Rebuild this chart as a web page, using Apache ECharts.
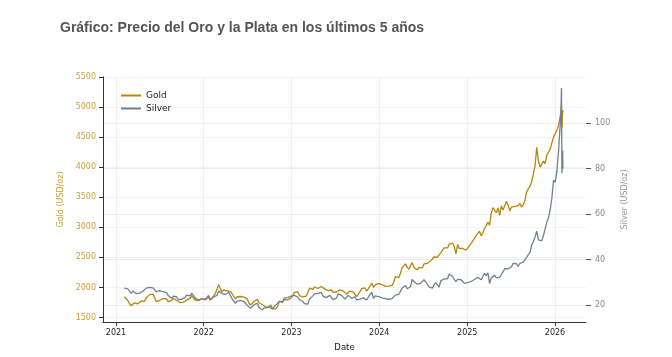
<!DOCTYPE html>
<html>
<head>
<meta charset="utf-8">
<script src="https://cdn.jsdelivr.net/npm/echarts@6/dist/echarts.min.js"></script>
<style>
html,body{margin:0;padding:0;background:#fff;}
#chart{width:672px;height:357px;}
</style>
</head>
<body>
<div id="chart"></div>
<script>
// Weekly (Friday) start date of each year's block
const weekStarts = ['2021-02-05','2022-01-07','2023-01-06','2024-01-05','2025-01-03','2026-01-02'];

const gold2021 = [1845,1823,1784,1734, 1698,1727,1745,1732, 1729,1744,1777,1777,1769, 1831,1843,1881,1905, 1891,1877,1764,1781, 1787,1808,1815,1802,1814, 1763,1780,1781,1818, 1827,1787,1754,1750, 1761,1757,1768,1793,1783, 1818,1865,1846,1792, 1783,1783,1798,1811,1829];
const gold2022 = [1797,1817,1835,1791, 1807,1859,1898,1889, 2045,1988,1921,1958, 1925,1945,1975,1931,1896, 1883,1811,1846,1853, 1850,1871,1840,1827, 1811,1742,1708,1727,1766, 1775,1802,1747,1737, 1712,1717,1675,1644,1672, 1695,1644,1657,1645, 1681,1771,1751,1754, 1798,1797,1793,1798,1824];
const gold2023 = [1865,1920,1926,1928, 1865,1865,1842,1811, 1856,1868,1989,1978,1969, 2008,2004,1983,1990, 2017,2011,1977,1946, 1948,1961,1958,1921,1919, 1925,1955,1962,1959, 1943,1914,1889,1915, 1940,1919,1924,1925,1848, 1833,1932,1981,2006, 1992,1940,1981,2002, 2072,2004,2040,2063,2070];
const gold2024 = [2045,2049,2029,2018, 2039,2024,2013,2036, 2083,2179,2155,2165,2230, 2329,2344,2392,2337, 2301,2360,2415,2334,2327, 2293,2333,2321,2326, 2392,2411,2400,2386, 2443,2431,2507,2512,2503, 2497,2577,2621,2658, 2653,2657,2721,2747, 2736,2685,2563,2715,2650, 2633,2648,2622,2621];
const gold2025 = [2640,2690,2702,2770,2800, 2861,2883,2936,2858, 2910,2984,3023,3085, 3037,3237,3327,3319, 3240,3325,3200,3357,3289, 3310,3433,3368,3274, 3337,3355,3350,3337, 3363,3398,3336,3372,3448, 3586,3643,3685,3760, 3886,4018,4330,4110,4000, 4000,4100,4060,4200, 4200,4300,4400,4500];
const gold2026 = [4480,4620,4700,4850];

const silver2021 = [27.5,27.3,27.2,26.7, 25.2,26.2,26.3,25.1, 24.9,25.3,25.9,26.1,25.9, 27.5,27.4,27.8,28.0, 27.6,28.0,25.9,26.1, 26.4,26.2,25.9,25.2,25.5, 24.3,23.7,23.0,24.0, 24.7,23.7,22.4,22.5, 22.6,22.6,23.3,24.4,23.9, 24.1,25.3,24.7,23.2, 22.4,22.2,22.4,22.9,23.3];
const silver2022 = [22.4,23.0,24.3,22.4, 22.5,23.6,23.9,24.3, 26.2,25.9,25.1,25.6, 24.7,24.8,25.7,24.2,22.8, 22.4,20.8,21.8,22.1, 22.1,21.9,21.6,21.1, 19.9,19.2,18.6,18.6,20.2, 19.9,20.8,19.0,18.8, 17.9,18.8,19.5,18.9,19.0, 20.1,18.3,19.3,19.2, 20.8,21.7,20.9,21.5, 23.1,23.5,23.3,23.7,24.0];
const silver2023 = [24.0,24.3,23.9,23.6, 22.4,21.9,21.6,20.7, 21.1,20.5,22.6,23.2,24.1, 25.0,25.5,25.2,25.0, 25.6,24.0,23.9,23.3, 23.6,24.3,24.2,22.4,22.8, 23.1,25.0,24.6,24.3, 23.6,22.7,22.8,24.3, 24.2,23.0,23.0,23.7,22.3, 21.6,22.7,23.3,23.2, 23.3,22.3,23.6,24.7, 25.6,23.0,24.1,24.2,23.8];
const silver2024 = [23.2,23.2,22.6,22.9, 22.8,22.6,23.4,22.9, 23.1,24.4,25.2,24.7,25.0, 27.4,28.2,28.7,27.2, 26.5,28.1,31.3,30.4,30.4, 29.2,29.5,29.6,29.1, 31.2,30.7,29.2,28.0, 28.6,27.5,29.0,29.9,28.9, 28.0,30.7,31.1,31.6, 32.1,31.6,33.7,33.7, 32.6,31.3,30.3,31.3,30.6, 31.2,30.6,29.6,29.4];
const silver2025 = [29.9,30.4,30.4,30.6,31.3, 31.9,32.3,32.6,31.2, 32.6,34.0,33.0,34.2, 29.5,32.0,32.5,33.1, 32.0,32.7,32.3,33.4,33.0, 36.0,36.3,36.0,36.0, 36.9,38.4,38.2,38.2, 37.0,38.3,38.0,39.0,39.7, 41.0,42.2,43.1,46.4, 47.9,50.0,52.5,48.7,48.6, 48.3,50.6,50.0,56.5, 58.4,62.0,67.0,75.0];
const silver2026 = [74,79,88,100];

// Final days (daily points)
const tailDates = ['2026-01-26','2026-01-28','2026-01-30','2026-02-02','2026-02-03'];
const goldTail = [4920,5030,4660,4950,4900];
const silverTail = [106,115.5,78,88,80];

const goldTicks = [1500,2000,2500,3000,3500,4000,4500,5000,5500];
const silverTicks = [20,40,60,80,100];
const yearTicks = ['2021-01-01','2022-01-01','2023-01-01','2024-01-01','2025-01-01','2026-01-01'];

const titleText = 'Gráfico: Precio del Oro y la Plata en los últimos 5 años';

const DAY = 86400000;
function ts(s){ return Date.parse(s + 'T00:00:00Z'); }
function build(blocks, tail){
  const out = [];
  blocks.forEach((vals, b) => {
    const t0 = ts(weekStarts[b]);
    vals.forEach((v, i) => out.push([t0 + i * 7 * DAY, v]));
  });
  tail.forEach((v, i) => out.push([ts(tailDates[i]), v]));
  return out;
}
const goldData = build([gold2021,gold2022,gold2023,gold2024,gold2025,gold2026], goldTail);
const silverData = build([silver2021,silver2022,silver2023,silver2024,silver2025,silver2026], silverTail);

const GOLD = '#B8860B', SILVER = '#708090', FONT = 'DejaVu Sans';
const chart = echarts.init(document.getElementById('chart'), null, {renderer:'canvas'});
chart.setOption({
  animation: false,
  backgroundColor: '#fff',
  title: {
    text: titleText, left: 55, top: 16,
    textStyle: {fontFamily: 'Liberation Sans', fontWeight: 'bold', fontSize: 14, color: '#555'}
  },
  legend: {
    orient: 'vertical', left: 116, top: 86, itemWidth: 20, itemHeight: 2, itemGap: 4,
    icon: 'rect',
    textStyle: {fontFamily: FONT, fontSize: 9, color: '#222'},
    data: ['Gold','Silver']
  },
  grid: {left: 103, right: 86, top: 77, bottom: 31, containLabel: false},
  xAxis: {
    type: 'value',
    min: ts('2020-11-08'), max: ts('2026-05-10'),
    name: 'Date', nameLocation: 'middle', nameGap: 21,
    nameTextStyle: {fontFamily: FONT, fontSize: 8.5, color: '#222'},
    axisLine: {show: true, onZero: false, lineStyle: {color: '#333', width: 1}},
    axisTick: {show: true, length: 4, lineStyle: {color: '#333'}, customValues: yearTicks.map(ts)},
    axisLabel: {fontFamily: FONT, fontSize: 8, color: '#222', margin: 7,
      customValues: yearTicks.map(ts),
      formatter: v => String(new Date(v).getUTCFullYear())},
    splitLine: {show: true, lineStyle: {color: '#f0f0f0', width: 1}}
  },
  yAxis: [
    {
      type: 'value', position: 'left', min: 1426, max: 5500,
      name: 'Gold (USD/oz)', nameLocation: 'middle', nameGap: 32, nameRotate: 90,
      nameTextStyle: {fontFamily: FONT, fontSize: 8, color: '#C9A035'},
      axisLine: {show: true, onZero: false, lineStyle: {color: '#333', width: 1}},
      axisTick: {show: true, length: 4, lineStyle: {color: '#333'}, customValues: goldTicks},
      axisLabel: {fontFamily: FONT, fontSize: 8, color: '#C9A035', margin: 7, customValues: goldTicks,
        formatter: v => String(v)},
      splitLine: {show: true, lineStyle: {color: '#f3f3f3', width: 1}}
    },
    {
      type: 'value', position: 'right', min: 12.6, max: 120.3,
      name: 'Silver (USD/oz)', nameLocation: 'middle', nameGap: 25, nameRotate: 90,
      nameTextStyle: {fontFamily: FONT, fontSize: 8, color: '#999'},
      axisLine: {show: false, onZero: false},
      axisTick: {show: true, length: 5, lineStyle: {color: '#555'}, customValues: silverTicks},
      axisLabel: {fontFamily: FONT, fontSize: 8, color: '#888', margin: 9, customValues: silverTicks},
      splitLine: {show: true, lineStyle: {color: '#ececec', width: 1}}
    }
  ],
  series: [
    {name: 'Gold', type: 'line', yAxisIndex: 0, data: goldData, showSymbol: false, symbol: 'none',
      lineStyle: {color: GOLD, width: 1.3}, itemStyle: {color: GOLD}},
    {name: 'Silver', type: 'line', yAxisIndex: 1, data: silverData, showSymbol: false, symbol: 'none',
      lineStyle: {color: SILVER, width: 1.3}, itemStyle: {color: SILVER}}
  ]
});
</script>
</body>
</html>
